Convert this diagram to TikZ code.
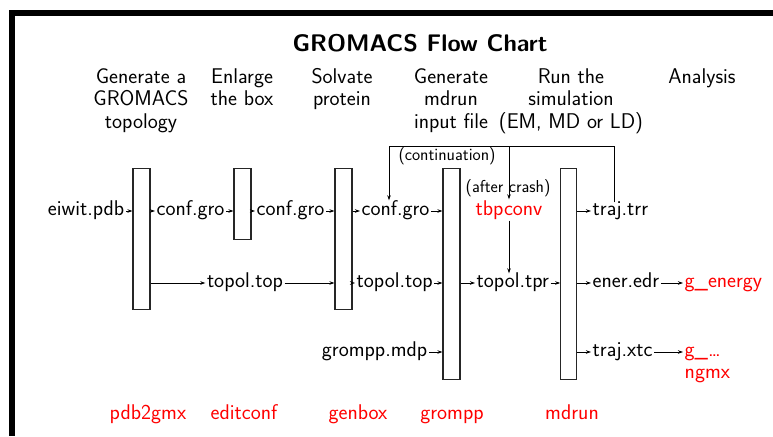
\documentclass[tikz,border=0pt]{standalone}
\usetikzlibrary{arrows.meta}
\renewcommand{\familydefault}{\sfdefault}
\begin{document}
\begin{tikzpicture}[x=1pt,y=-1pt,
  every node/.style={font=\fontsize{21.3}{22.5}\selectfont},
  lbl/.style={inner sep=1.5pt,text height=12pt,text depth=4pt},
  prog/.style={text=red,anchor=base},
  hdr/.style={align=center,anchor=base},
  note/.style={font=\fontsize{17.3}{20}\selectfont,inner sep=0pt},
  stage/.style={draw=black!85,line width=1.1pt,minimum width=17pt,inner sep=0pt,anchor=north},
  arr/.style={line width=0.8pt,-{Stealth[length=5pt,width=3.5pt]}},
  ln/.style={line width=0.8pt}]
\useasboundingbox (0,0) rectangle (773,436);
% frame
\fill (9,10) rectangle (773,16);
\fill (9,10) rectangle (15,436);

% title and column headings (base anchor sits on the last line)
\node[anchor=base,font=\fontsize{24}{28}\selectfont\bfseries] (title) at (420,52) {GROMACS Flow Chart};
\node[hdr] (h1) at (141,128) {Generate a\\GROMACS\\topology};
\node[hdr] (h2) at (242,105.5) {Enlarge\\the box};
\node[hdr] (h3) at (342,105.5) {Solvate\\protein};
\node[hdr] (h4) at (451,128) {Generate\\mdrun\\input file};
\node[hdr] (h5) at (571,128) {Run the\\simulation\\(EM, MD or LD)};
\node[hdr] (h6) at (702,83) {Analysis};

% program stages
\node[stage,minimum height=141pt] (b1) at (141.5,168) {};
\node[stage,minimum height=71pt]  (b2) at (242.5,168) {};
\node[stage,minimum height=141pt] (b3) at (343.5,168) {};
\node[stage,minimum height=211pt] (b4) at (451.5,168) {};
\node[stage,minimum height=211pt,minimum width=15.5pt] (b5) at (568.5,168) {};

% files, first row
\node[lbl,anchor=east] (pdb) at (126,211) {eiwit.pdb};
\node[lbl,anchor=west] (cg1) at (155,211) {conf.gro};
\node[lbl,anchor=west] (cg2) at (255,211) {conf.gro};
\node[lbl,anchor=west] (cg3) at (360,211) {conf.gro};
\node[lbl,text=red] (tbp) at (509,211) {tbpconv};
\node[lbl,anchor=west] (trr) at (591,211) {traj.trr};

% files, second row
\node[lbl] (top1) at (245,283) {topol.top};
\node[lbl,anchor=west] (top2) at (355,283) {topol.top};
\node[lbl,anchor=west] (tpr) at (475,283) {topol.tpr};
\node[lbl,anchor=west] (edr) at (591,283) {ener.edr};
\node[lbl,anchor=west,text=red] (gen) at (683,283) {g\_energy};

% files, third row
\node[lbl,anchor=east] (mdp) at (429,352) {grompp.mdp};
\node[lbl,anchor=west] (xtc) at (591,352) {traj.xtc};
\node[lbl,anchor=west,text=red] (gany) at (683,352) {g\_\dots};
\node[lbl,anchor=west,text=red] (ngmx) at (683,374) {ngmx};

% notes on the restart loop
\node[note] (cont) at (447,156) {(continuation)};
\node[note] (crash) at (508,188) {(after crash)};

% program names
\node[prog] (p1) at (148,419) {pdb2gmx};
\node[prog] (p2) at (244,419) {editconf};
\node[prog] (p3) at (358,419) {genbox};
\node[prog] (p4) at (452,419) {grompp};
\node[prog] (p5) at (572,419) {mdrun};

% data flow, first row
\draw[arr] (pdb.east) -- (pdb.east -| b1.west);
\draw[arr] (cg1.west -| b1.east) -- (cg1.west);
\draw[arr] (cg1.east) -- (cg1.east -| b2.west);
\draw[arr] (cg2.west -| b2.east) -- (cg2.west);
\draw[arr] (cg2.east) -- (cg2.east -| b3.west);
\draw[arr] (cg3.west -| b3.east) -- (cg3.west);
\draw[arr] (cg3.east) -- (cg3.east -| b4.west);
\draw[arr] (trr.west -| b5.east) -- (trr.west);

% data flow, second row
\draw[arr] (top1.west -| b1.east) -- (top1.west);
\draw[arr] (top1.east) -- (top1.east -| b3.west);
\draw[arr] (top2.west -| b3.east) -- (top2.west);
\draw[arr] (top2.east) -- (top2.east -| b4.west);
\draw[arr] (tpr.west -| b4.east) -- (tpr.west);
\draw[arr] (tpr.east) -- (tpr.east -| b5.west);
\draw[arr] (edr.west -| b5.east) -- (edr.west);
\draw[arr] (edr.east) -- (gen.west);

% data flow, third row
\draw[arr] (mdp.east) -- (mdp.east -| b4.west);
\draw[arr] (xtc.west -| b5.east) -- (xtc.west);
\draw[arr] (xtc.east) -- (gany.west);

% restart loop from the trajectory
\coordinate (up) at ([xshift=-6pt,yshift=-1pt]trr.north);
\coordinate (lc) at (389,146);
\coordinate (lt) at (tbp.center |- lc);
\draw[ln] (up) -- (up |- lc) -- (lc);
\draw[arr] (lc) -- ([yshift=1pt]lc |- cg3.north);
\draw[arr] (lt) -- ([yshift=2pt]tbp.north);
\draw[arr] (tbp.south) -- (tbp.south |- tpr.north);
\end{tikzpicture}
\end{document}
